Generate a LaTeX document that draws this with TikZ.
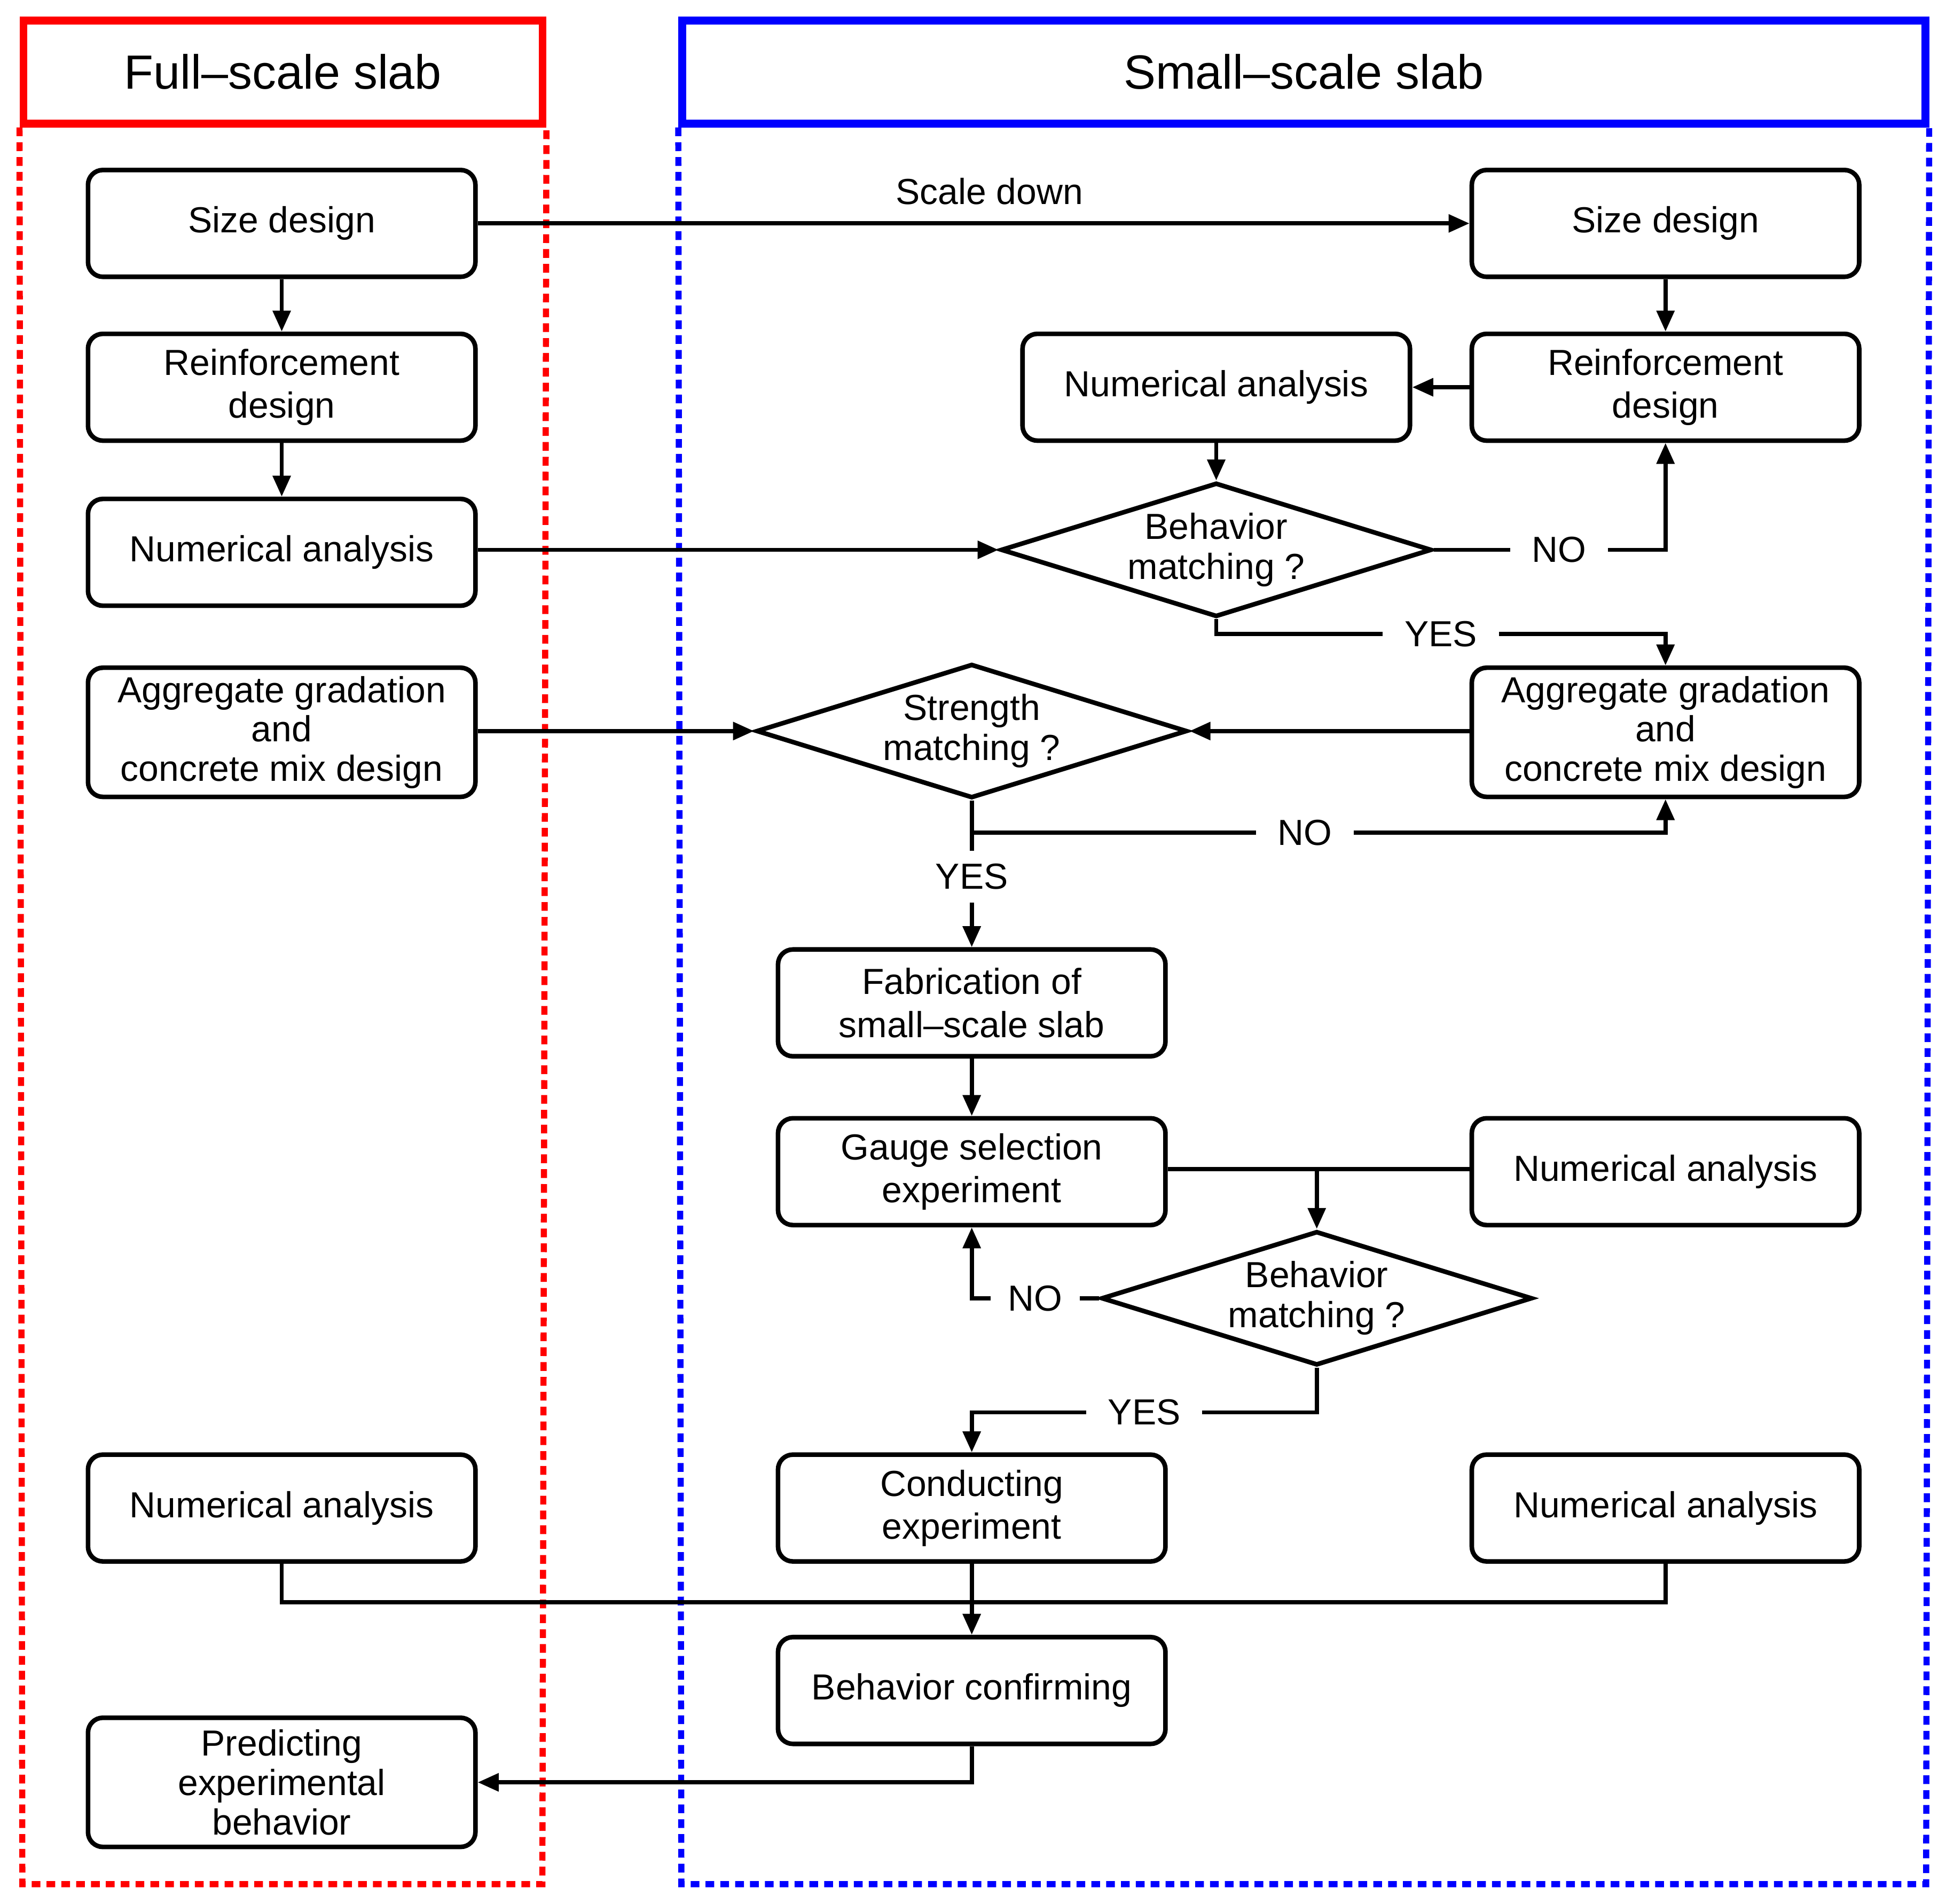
\documentclass[tikz,border=0pt]{standalone}
\usepackage{fontspec}
\setmainfont{Liberation Sans}
\usetikzlibrary{positioning,shapes.geometric,arrows.meta,calc}
\definecolor{fullred}{HTML}{FF0000}
\definecolor{smallblue}{HTML}{0000FF}

\begin{document}
\begin{tikzpicture}[
  x=0.01cm, y=-0.01cm,
  every node/.style={font=\fontsize{8.3}{9.8}\selectfont},
  box/.style={
    rectangle, rounded corners=3.4pt, draw=black, line width=1.05pt, fill=white,
    minimum width=3.12cm, minimum height=0.86cm, inner sep=1pt, align=center,
  },
  tallbox/.style={box, minimum height=1.04cm, font=\fontsize{8.3}{9}\selectfont},
  decide/.style={
    diamond, draw=black, line width=1.05pt, fill=white, aspect=3.2, inner sep=0pt,
    minimum width=3.47cm, minimum height=1.08cm, align=center, font=\fontsize{8.3}{9.2}\selectfont,
  },
  titlebox/.style={rectangle, draw=#1, line width=1.8pt, minimum height=0.83cm, font=\fontsize{11}{13}\selectfont},
  lane/.style={draw=#1, line width=1.4pt, dash pattern=on 2pt off 1.4pt},
  arr/.style={-{Triangle[length=4.8pt, width=4pt]}, line width=0.95pt},
  link/.style={line width=0.95pt},
  lbl/.style={fill=white, inner xsep=5pt, inner ysep=3pt},
]
\useasboundingbox (0,0) rectangle (1568,1534);

% ── Column x-coordinates ──
\def\xL{227}
\def\xM{783}
\def\xR{1342}

% ── Lane headers and dotted frames ──
\node[titlebox=fullred,   minimum width=4.18cm]  (fullT)  at (228,58)  {Full–scale slab};
\node[titlebox=smallblue, minimum width=10.01cm] (smallT) at (1050.5,58) {Small–scale slab};
\draw[lane=fullred]   (fullT.south west)  -- (18,1518)  -- (437,1518)  -- (fullT.south east);
\draw[lane=smallblue] (smallT.south west) -- (549,1518) -- (1552,1518) -- (smallT.south east);

% ── Full-scale column ──
\node[box]     (sizeL)  at (\xL,180)  {Size design};
\node[box]     (reinfL) at (\xL,312)  {Reinforcement\\design};
\node[box]     (numL1)  at (\xL,445)  {Numerical analysis};
\node[tallbox] (aggL)   at (\xL,590)  {Aggregate gradation\\and\\concrete mix design};
\node[box]     (numL2)  at (\xL,1215) {Numerical analysis};
\node[tallbox] (predL)  at (\xL,1436) {Predicting\\experimental\\behavior};

% ── Small-scale column (right) ──
\node[box]     (sizeR)  at (\xR,180)  {Size design};
\node[box]     (reinfR) at (\xR,312)  {Reinforcement\\design};
\node[tallbox] (aggR)   at (\xR,590)  {Aggregate gradation\\and\\concrete mix design};
\node[box]     (numR1)  at (\xR,944)  {Numerical analysis};
\node[box]     (numR2)  at (\xR,1215) {Numerical analysis};

% ── Small-scale column (middle) ──
\node[box]    (numM)  at (980,312)  {Numerical analysis};
\node[decide] (bm1)   at (980,443)  {Behavior\\matching ?};
\node[decide] (str)   at (\xM,589)  {Strength\\matching ?};
\node[box]    (fab)   at (\xM,808)  {Fabrication of\\small–scale slab};
\node[box]    (gauge) at (\xM,944)  {Gauge selection\\experiment};
\node[decide] (bm2)   at (1061,1046) {Behavior\\matching ?};
\node[box]    (cond)  at (\xM,1215) {Conducting\\experiment};
\node[box]    (conf)  at (\xM,1362) {Behavior confirming};

% ── Connectors ──
\draw[arr] (sizeL) -- node[above=0.5pt, pos=0.516] (scaleLbl) {Scale down} (sizeR);
\draw[arr] (sizeL) -- (reinfL);
\draw[arr] (reinfL) -- (numL1);
\draw[arr] (numL1.east |- bm1.west) -- (bm1.west);
\draw[arr] (aggL.east |- str.west) -- (str.west);

\draw[arr] (sizeR) -- (reinfR);
\draw[arr] (reinfR) -- (numM);
\draw[arr] (numM) -- (bm1.north);
\draw[arr] (bm1.east) -| node[lbl, pos=0.27] (bm1No) {NO} (reinfR.south);
\draw[arr] (bm1.south) -- ++(0,12) -| node[lbl, pos=0.25] (bm1Yes) {YES} (aggR.north);
\draw[arr] (aggR.west |- str.east) -- (str.east);

\draw[arr] (str.south) -- node[lbl, pos=0.52] (strYes) {YES} (fab.north);
\draw[arr] (str.south) ++(0,26) -| node[lbl, pos=0.24] (strNo) {NO} (aggR.south);
\draw[arr] (fab) -- (gauge);

% gauge + numerical analysis → behavior matching
\draw[link] (gauge.east |- 0,942) -- (numR1.west |- 0,942);
\draw[arr] (bm2.north |- 0,942) -- (bm2.north);
\draw[arr] (bm2.west) -| node[lbl, pos=0.25, inner xsep=4pt] (bm2No) {NO} (gauge.south);
\draw[arr] (bm2.south) -- ++(0,36) -| node[lbl, pos=0.25] (bm2Yes) {YES} (cond.north);

% experiment + both analyses → behavior confirming
\draw[link] (numL2.south) -- ++(0,31) -| (numR2.south);
\draw[arr] (cond) -- (conf);
\draw[arr] (conf.south) |- (predL.east);

\end{tikzpicture}
\end{document}
